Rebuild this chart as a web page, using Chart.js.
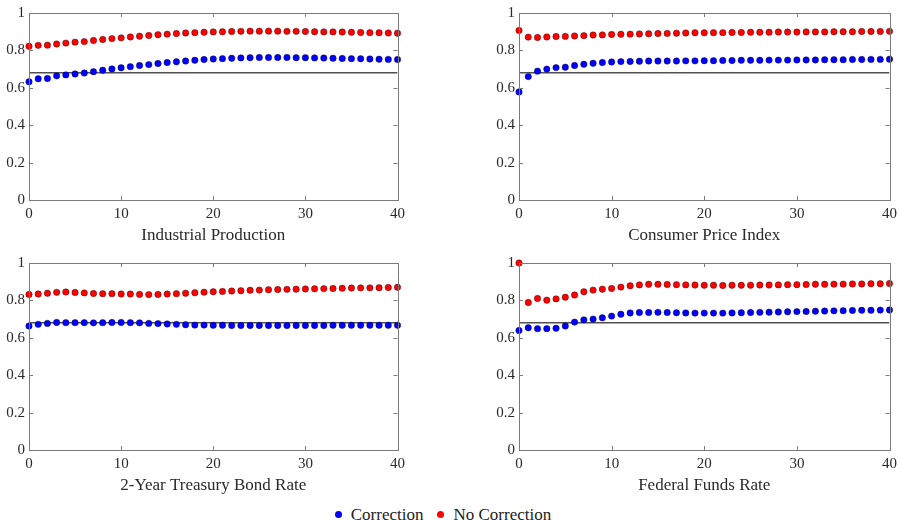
<!DOCTYPE html>
<html>
<head>
<meta charset="utf-8">
<script src="https://cdn.jsdelivr.net/npm/chart.js@4/dist/chart.umd.min.js"></script>
<style>
  html, body { margin: 0; padding: 0; background: #fff; font-family: 'Liberation Serif', serif; }
  #wrap { position: relative; width: 902px; height: 521px; overflow: hidden; font-family: 'Liberation Serif', serif; }
  .cv { position: absolute; }
  #legend { position: absolute; left: 0; top: 505px; width: 886px; text-align: center; font-family: 'Liberation Serif', serif; font-size: 17px; line-height: 20px; color: #222; }
  .dot { display: inline-block; width: 7px; height: 7px; border-radius: 50%; vertical-align: middle; margin-right: 9px; position: relative; top: -2px; }
</style>
</head>
<body>
<div id="wrap">
  <canvas id="c0" class="cv" style="left:0px;top:0px" width="410" height="250"></canvas>
  <canvas id="c1" class="cv" style="left:490px;top:0px" width="412" height="250"></canvas>
  <canvas id="c2" class="cv" style="left:0px;top:250px" width="410" height="250"></canvas>
  <canvas id="c3" class="cv" style="left:490px;top:250px" width="412" height="250"></canvas>
  <div id="legend"><span class="dot" style="background:#0000ff"></span>Correction<span style="display:inline-block;width:14px"></span><span class="dot" style="background:#ff0000"></span>No Correction</div>
</div>
<script>
const horizon = Array.from({length: 41}, (_, i) => i);
const threshold = 0.68;
const xTicks = [0, 10, 20, 30, 40];
const yTicks = [0, 0.2, 0.4, 0.6, 0.8, 1];
const panelTitles = ["Industrial Production", "Consumer Price Index", "2-Year Treasury Bond Rate", "Federal Funds Rate"];
const seriesNames = ["Correction", "No Correction"];

const ipCorr = [0.632,0.648,0.650,0.664,0.669,0.674,0.679,0.686,0.694,0.701,0.707,0.713,0.719,0.724,0.730,0.735,0.739,0.743,0.747,0.751,0.754,0.756,0.758,0.760,0.761,0.762,0.762,0.762,0.762,0.761,0.761,0.760,0.759,0.758,0.757,0.756,0.755,0.754,0.753,0.752,0.751];
const ipNoCorr = [0.822,0.827,0.828,0.834,0.839,0.844,0.847,0.853,0.858,0.863,0.867,0.872,0.876,0.880,0.884,0.887,0.890,0.893,0.895,0.897,0.899,0.900,0.901,0.902,0.903,0.903,0.903,0.903,0.902,0.902,0.901,0.900,0.899,0.899,0.898,0.897,0.896,0.895,0.894,0.893,0.892];

const cpiCorr = [0.578,0.660,0.689,0.700,0.708,0.710,0.719,0.726,0.731,0.735,0.738,0.740,0.741,0.742,0.743,0.743,0.743,0.743,0.744,0.744,0.745,0.745,0.746,0.746,0.747,0.747,0.747,0.748,0.748,0.748,0.749,0.749,0.749,0.750,0.750,0.750,0.751,0.751,0.752,0.752,0.753];
const cpiNoCorr = [0.907,0.871,0.869,0.872,0.874,0.875,0.877,0.879,0.882,0.883,0.885,0.886,0.887,0.888,0.889,0.890,0.891,0.892,0.893,0.894,0.894,0.895,0.895,0.896,0.896,0.897,0.897,0.897,0.898,0.898,0.898,0.899,0.899,0.899,0.900,0.900,0.900,0.901,0.901,0.901,0.902];

const tbCorr = [0.663,0.672,0.677,0.682,0.681,0.681,0.681,0.680,0.681,0.682,0.682,0.681,0.680,0.677,0.676,0.674,0.672,0.670,0.668,0.668,0.667,0.667,0.666,0.666,0.666,0.666,0.666,0.666,0.666,0.666,0.666,0.666,0.666,0.667,0.667,0.667,0.667,0.667,0.667,0.667,0.667];
const tbNoCorr = [0.832,0.834,0.838,0.843,0.845,0.842,0.840,0.837,0.836,0.836,0.834,0.834,0.832,0.831,0.832,0.834,0.836,0.838,0.841,0.844,0.846,0.848,0.850,0.852,0.854,0.855,0.857,0.858,0.859,0.860,0.861,0.862,0.863,0.864,0.865,0.866,0.867,0.867,0.868,0.869,0.870];

const ffCorr = [0.639,0.654,0.649,0.649,0.651,0.663,0.684,0.696,0.700,0.707,0.716,0.726,0.733,0.735,0.735,0.736,0.735,0.734,0.733,0.732,0.732,0.732,0.732,0.733,0.734,0.735,0.736,0.737,0.738,0.739,0.740,0.741,0.742,0.743,0.744,0.745,0.746,0.747,0.747,0.748,0.749];
const ffNoCorr = [1.000,0.789,0.810,0.801,0.808,0.817,0.829,0.846,0.855,0.860,0.864,0.871,0.878,0.883,0.886,0.886,0.885,0.884,0.883,0.882,0.881,0.881,0.880,0.881,0.881,0.881,0.882,0.882,0.883,0.884,0.884,0.885,0.886,0.886,0.887,0.887,0.888,0.888,0.889,0.889,0.890];

const panels = [
  {corr: ipCorr, noCorr: ipNoCorr},
  {corr: cpiCorr, noCorr: cpiNoCorr},
  {corr: tbCorr, noCorr: tbNoCorr},
  {corr: ffCorr, noCorr: ffNoCorr}
];

const AXIS_COLOR = '#7a7a7a';
const TEXT_COLOR = '#2a2a2a';
const SERIF = "'Liberation Serif', serif";
Chart.defaults.font.family = SERIF;

const boxPlugin = {
  id: 'matlabBox',
  afterDatasetsDraw(chart) {
    const {ctx, chartArea: a, scales: {x, y}} = chart;
    ctx.save();
    ctx.strokeStyle = AXIS_COLOR;
    ctx.lineWidth = 1;
    ctx.strokeRect(Math.round(a.left) + 0.5, Math.round(a.top) + 0.5, Math.round(a.right - a.left), Math.round(a.bottom - a.top));
    const tl = 4;
    ctx.beginPath();
    xTicks.slice(1, -1).forEach(v => {
      const px = Math.round(x.getPixelForValue(v)) + 0.5;
      ctx.moveTo(px, a.bottom); ctx.lineTo(px, a.bottom - tl);
      ctx.moveTo(px, a.top); ctx.lineTo(px, a.top + tl);
    });
    yTicks.slice(1, -1).forEach(v => {
      const py = Math.round(y.getPixelForValue(v)) + 0.5;
      ctx.moveTo(a.left, py); ctx.lineTo(a.left + tl, py);
      ctx.moveTo(a.right, py); ctx.lineTo(a.right - tl, py);
    });
    ctx.stroke();
    ctx.restore();
  }
};

function makeChart(id, idx) {
  const p = panels[idx];
  const pts = arr => horizon.map((h, i) => ({x: h, y: arr[i]}));
  new Chart(document.getElementById(id), {
    type: 'scatter',
    data: {
      datasets: [
        {
          label: 'threshold', type: 'line',
          data: [{x: horizon[0], y: threshold}, {x: horizon[horizon.length - 1], y: threshold}],
          borderColor: '#505050', borderWidth: 1.5, pointRadius: 0, fill: false, order: 3
        },
        {
          label: seriesNames[1], data: pts(p.noCorr),
          backgroundColor: '#ff0000', borderColor: 'rgba(60,0,0,0.75)', borderWidth: 0.6,
          pointRadius: 3.2, clip: false, order: 2
        },
        {
          label: seriesNames[0], data: pts(p.corr),
          backgroundColor: '#0000ff', borderColor: 'rgba(0,0,60,0.75)', borderWidth: 0.6,
          pointRadius: 3.2, clip: false, order: 1
        }
      ]
    },
    options: {
      responsive: false, animation: false, devicePixelRatio: 1,
      layout: {padding: {top: 9, right: 9, left: 0, bottom: 0}},
      plugins: {legend: {display: false}, tooltip: {enabled: false}},
      scales: {
        x: {
          type: 'linear', min: 0, max: 40,
          afterFit(s) { s.height = 50; },
          afterBuildTicks(s) { s.ticks = xTicks.map(v => ({value: v})); },
          grid: {display: false, drawTicks: false},
          border: {display: false},
          ticks: {color: TEXT_COLOR, font: {family: SERIF, size: 15}, padding: 5, maxRotation: 0},
          title: {display: true, text: panelTitles[idx], color: TEXT_COLOR, font: {family: SERIF, size: 17}, padding: {top: 0, bottom: 4}}
        },
        y: {
          type: 'linear', min: 0, max: 1,
          afterFit(s) { s.width = 29; },
          afterBuildTicks(s) { s.ticks = yTicks.map(v => ({value: v})); },
          grid: {display: false, drawTicks: false},
          border: {display: false},
          ticks: {color: TEXT_COLOR, font: {family: SERIF, size: 15}, padding: 4,
                  callback: v => String(Math.round(v * 10) / 10)}
        }
      }
    },
    plugins: [boxPlugin]
  });
}

makeChart('c0', 0);
makeChart('c1', 1);
makeChart('c2', 2);
makeChart('c3', 3);
</script>
</body>
</html>
